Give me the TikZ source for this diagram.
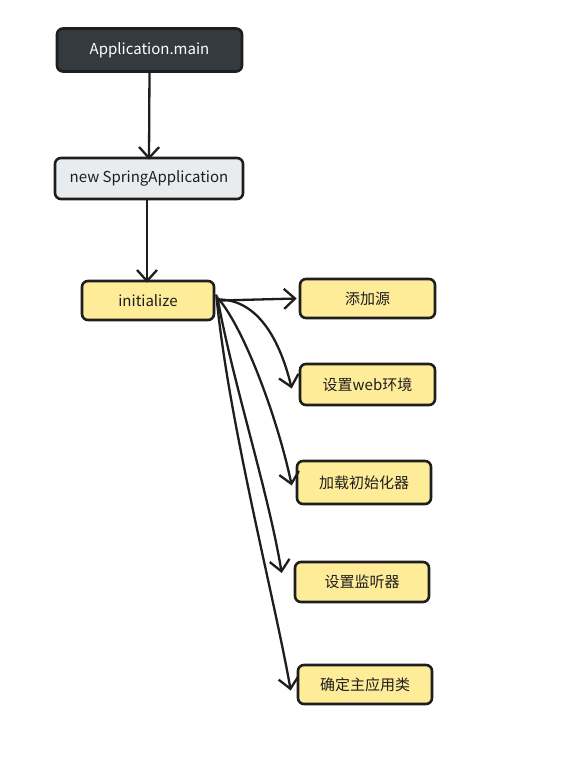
\documentclass[tikz,border=0pt]{standalone}
\usepackage{fontspec}
\setmainfont{Noto Sans CJK SC}
\usetikzlibrary{arrows.meta,calc}
\definecolor{inkc}{HTML}{1E1E1E}
\definecolor{darkfill}{HTML}{343A40}
\definecolor{grayfill}{HTML}{E9ECEF}
\definecolor{yellowfill}{HTML}{FFEC99}
\tikzset{
  box/.style={draw=inkc, line width=2.6pt, rounded corners=6pt, align=center, inner sep=0pt, font=\fontsize{15}{17}\selectfont},
  darkbox/.style={box, fill=darkfill, text=white},
  graybox/.style={box, fill=grayfill, text=inkc},
  yellowbox/.style={box, fill=yellowfill, text=inkc},
  arr/.style={draw=inkc, line width=2.3pt, -{Straight Barb[length=11pt,width=20pt,line width=2.3pt]}},
}
\begin{document}
\begin{tikzpicture}[x=1pt,y=-1pt]
\useasboundingbox[fill=white] (0,0) rectangle (573,769);
\node[darkbox, minimum width=185pt, minimum height=43pt] (main) at (149.5,50) {Application.main};
\node[graybox, minimum width=188pt, minimum height=41pt] (spring) at (149,178.5) {new SpringApplication};
\node[yellowbox, minimum width=132pt, minimum height=39pt] (init) at (148,300.5) {initialize};
\node[yellowbox, minimum width=135pt, minimum height=39pt] (src) at (367.5,298.5) {添加源};
\node[yellowbox, minimum width=135pt, minimum height=41pt] (web) at (367.5,384.5) {设置web环境};
\node[yellowbox, minimum width=134pt, minimum height=43pt] (load) at (364,482.5) {加载初始化器};
\node[yellowbox, minimum width=134pt, minimum height=40pt] (listen) at (362,582) {设置监听器};
\node[yellowbox, minimum width=134pt, minimum height=39pt] (mainc) at (365,684.5) {确定主应用类};

\draw[arr] ([yshift=3pt]main.south) -- ([yshift=-3pt]spring.north);
\draw[arr] ([xshift=-2pt,yshift=2pt]spring.south) -- ([xshift=-1pt,yshift=-3pt]init.north);
\draw[arr] ([xshift=4pt]init.east) -- ([xshift=-2pt]src.west);
\draw[arr] ([xshift=4pt,yshift=1pt]init.east) .. controls (258,300) and (280,340) .. ([shift={(-7,4)}]web.west);
\draw[arr] ([xshift=3pt,yshift=2pt]init.east) .. controls (245,330) and (278,420) .. ([shift={(-4,3)}]load.west);
\draw[arr] ([xshift=2pt,yshift=4pt]init.east) .. controls (232,380) and (268,490) .. ([shift={(-12,-9)}]listen.west);
\draw[arr] ([xshift=1pt,yshift=6pt]init.east) .. controls (228,420) and (275,600) .. ([shift={(-6,6)}]mainc.west);
\end{tikzpicture}
\end{document}
